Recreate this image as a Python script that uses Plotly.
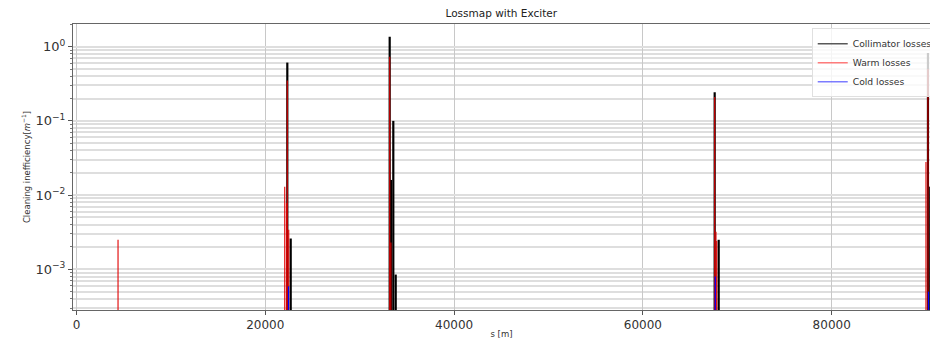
import math
import plotly.graph_objects as go

# Loss positions along the ring (s, metres) and cleaning inefficiency per category
coll_s = [22331, 22690, 33177, 33315, 33559, 33813, 67604, 68028, 90197, 90280]
coll_v = [0.61, 0.0026, 1.36, 0.016, 0.10, 0.00085, 0.243, 0.0025, 0.82, 0.013]

warm_s = [4400, 22055, 22250, 22331, 22480, 33177, 33300, 67604, 67740, 67816, 89986, 90197]
warm_v = [0.0025, 0.013, 0.0078, 0.35, 0.0034, 0.73, 0.0023, 0.21, 0.0032, 0.0024, 0.028, 0.5]

cold_s = [22458, 67668, 90250]
cold_v = [0.00059, 0.0008, 0.0005]

x_ticks = [0, 20000, 40000, 60000, 80000]
y_ticks = [1e-3, 1e-2, 1e-1, 1e0]
y_tick_text = ["10<sup>−3</sup>", "10<sup>−2</sup>", "10<sup>−1</sup>", "10<sup>0</sup>"]

X_RANGE = [-371, 90413]
Y_MIN, Y_MAX = 2.83e-4, 2.02


def spikes(s_vals, v_vals):
    xs, ys = [], []
    for s, v in zip(s_vals, v_vals):
        xs += [s, s, None]
        ys += [Y_MIN, v, None]
    return xs, ys


series = [
    ("Collimator losses", coll_s, coll_v, "black", 2.2, "rgba(60,60,60,0.85)"),
    ("Warm losses", warm_s, warm_v, "rgba(225,0,0,0.85)", 1.3, "rgba(255,80,80,0.75)"),
    ("Cold losses", cold_s, cold_v, "blue", 1.2, "rgba(80,80,255,0.75)"),
]

fig = go.Figure()
for name, s_vals, v_vals, color, width, _ in series:
    xs, ys = spikes(s_vals, v_vals)
    fig.add_trace(go.Scatter(x=xs, y=ys, mode="lines", name=name,
                             line=dict(color=color, width=width),
                             showlegend=False, hoverinfo="skip"))

# Legend handles: thin, slightly translucent line samples
for name, _, _, _, _, lcolor in series:
    fig.add_trace(go.Scatter(x=[None], y=[None], mode="lines", name=name,
                             line=dict(color=lcolor, width=1.5)))

minor_vals = [m * 10 ** e for e in range(-4, 1) for m in range(2, 10)]

font = "DejaVu Sans, sans-serif"
fig.update_layout(
    width=930, height=339,
    margin=dict(l=73, r=0, t=24, b=29, autoexpand=False),
    paper_bgcolor="white", plot_bgcolor="white",
    font=dict(family=font, color="#333"),
    title=dict(text="Lossmap with Exciter", x=0.539, xanchor="center",
               y=1 - 13 / 339, yanchor="middle", font=dict(size=10.5, color="#222")),
    showlegend=True,
    legend=dict(x=0.862, xanchor="left", y=0.985, yanchor="top",
                bgcolor="rgba(255,255,255,0.8)", bordercolor="#e0e0e0", borderwidth=1,
                font=dict(size=9.2, color="#333"), itemwidth=30,
                tracegroupgap=0),
    xaxis=dict(range=X_RANGE, tickvals=x_ticks, ticktext=[str(v) for v in x_ticks],
               showgrid=True, gridcolor="#c8c8c8", gridwidth=1,
               zeroline=False, showline=True, linecolor="#666", linewidth=1,
               mirror=True, ticks="outside", ticklen=4, tickcolor="#555",
               tickfont=dict(size=12, color="#333"),
               title=dict(text="s [m]", font=dict(size=8.5, color="#333"), standoff=4)),
    yaxis=dict(type="log", range=[math.log10(Y_MIN), math.log10(Y_MAX)],
               tickvals=y_ticks, ticktext=y_tick_text,
               showgrid=True, gridcolor="#dedede", gridwidth=1.5,
               zeroline=False, showline=True, linecolor="#666", linewidth=1,
               mirror=True, ticks="outside", ticklen=4, tickcolor="#555",
               tickfont=dict(size=13, color="#333"),
               minor=dict(tickmode="array", tickvals=minor_vals, ticks="outside",
                          ticklen=2, tickcolor="#777", showgrid=True,
                          gridcolor="#dedede", gridwidth=1.5),
               title=dict(text="Cleaning inefficiency[<i>m</i><sup>−1</sup>]",
                          font=dict(size=8.5, color="#333"), standoff=3)),
)

fig.write_html("out.html")
